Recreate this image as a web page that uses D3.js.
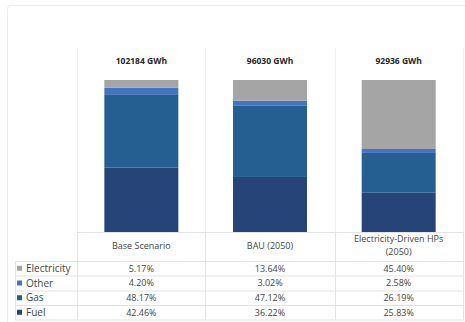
<!DOCTYPE html>
<html><head><meta charset="utf-8">
<script src="https://cdn.jsdelivr.net/npm/d3@7"></script>
<style>html,body{margin:0;padding:0;background:#fff;}svg{display:block;}</style>
</head><body>
<svg id="chart" width="465" height="322"></svg>
<script>
const scenarios = ["Base Scenario", "BAU (2050)", "Electricity-Driven HPs (2050)"];
const scenarioLines = [["Base Scenario"], ["BAU (2050)"], ["Electricity-Driven HPs", "(2050)"]];
const totals = ["102184 GWh", "96030 GWh", "92936 GWh"];
const seriesNames = ["Electricity", "Other", "Gas", "Fuel"];
const electricity = [5.17, 13.64, 45.40];
const other = [4.20, 3.02, 2.58];
const gas = [48.17, 47.12, 26.19];
const fuel = [42.46, 36.22, 25.83];
const colors = ["#a5a5a5", "#4472c4", "#255e91", "#264478"];

const seriesValues = [electricity, other, gas, fuel];
const rows = scenarios.map((s, i) => ({scenario: s, Electricity: electricity[i], Other: other[i], Gas: gas[i], Fuel: fuel[i]}));
const stackOrder = ["Fuel", "Gas", "Other", "Electricity"];
const stacked = d3.stack().keys(stackOrder)(rows);
const colorOf = d3.scaleOrdinal().domain(seriesNames).range(colors);

const svg = d3.select("#chart");
const font = "'Open Sans', 'Noto Sans', sans-serif";
const textCol = "#454545";
const lineCol = "#e3e3e3";

// outer card
svg.append("rect").attr("x", 7.5).attr("y", 5.5).attr("width", 470).attr("height", 330)
  .attr("rx", 3).attr("fill", "none").attr("stroke", "#ececec");

const colX = d3.scaleBand().domain(scenarios).range([77, 463]);
const x = d3.scaleBand().domain(scenarios).range([77, 463]).paddingInner(0.425).paddingOuter(0.2125);
const y = d3.scaleLinear().domain([0, 100]).range([232, 80]);

// vertical column lines (faint in chart area, clearer in table)
const vx = [77, 205, 335, 463];
svg.selectAll(".vline").data(vx).enter().append("line")
  .attr("x1", d => d + 0.5).attr("x2", d => d + 0.5).attr("y1", 48).attr("y2", 232)
  .attr("stroke", "#f1f1f1").attr("stroke-width", 1);
svg.selectAll(".vline2").data(vx).enter().append("line")
  .attr("x1", d => d + 0.5).attr("x2", d => d + 0.5).attr("y1", 232).attr("y2", 319.5)
  .attr("stroke", lineCol).attr("stroke-width", 1);

// bars
svg.append("g").selectAll("g").data(stacked).enter().append("g")
  .attr("fill", d => colorOf(d.key))
  .selectAll("rect").data(d => d).enter().append("rect")
  .attr("x", d => x(d.data.scenario))
  .attr("width", x.bandwidth())
  .attr("y", d => y(d[1]))
  .attr("height", d => y(d[0]) - y(d[1]));

// totals
svg.selectAll(".tot").data(scenarios).enter().append("text")
  .attr("x", d => colX(d) + colX.bandwidth() / 2).attr("y", 64)
  .attr("text-anchor", "middle").attr("font-family", font).attr("font-size", 8.5)
  .attr("font-weight", "bold").attr("fill", "#262626")
  .text((d, i) => totals[i]);

// table lines
svg.append("line").attr("x1", 77).attr("x2", 463.5).attr("y1", 232.5).attr("y2", 232.5).attr("stroke", lineCol);
const rowY = [261, 275.5, 290.5, 305, 319.5];
svg.selectAll(".hline").data(rowY).enter().append("line")
  .attr("x1", 15).attr("x2", 463.5).attr("y1", d => d + 0.5).attr("y2", d => d + 0.5)
  .attr("stroke", lineCol);
svg.append("line").attr("x1", 15.5).attr("x2", 15.5).attr("y1", 261).attr("y2", 320).attr("stroke", lineCol);

// category labels
scenarios.forEach((s, i) => {
  const lines = scenarioLines[i];
  const cx = colX(s) + colX.bandwidth() / 2;
  const t = svg.append("text").attr("text-anchor", "middle").attr("font-family", font)
    .attr("font-size", 9).attr("fill", textCol);
  if (lines.length === 1) {
    t.append("tspan").attr("x", cx).attr("y", 249).text(lines[0]);
  } else {
    t.append("tspan").attr("x", cx).attr("y", 242).text(lines[0]);
    t.append("tspan").attr("x", cx).attr("y", 255).text(lines[1]);
  }
});

// data rows
seriesNames.forEach((name, r) => {
  const yMid = (rowY[r] + rowY[r + 1]) / 2;
  svg.append("rect").attr("x", 17).attr("y", yMid - 2.5).attr("width", 5).attr("height", 5)
    .attr("fill", colors[r]);
  svg.append("text").attr("x", 26).attr("y", yMid + 3.5).attr("font-family", font)
    .attr("font-size", 10).attr("fill", textCol).text(name);
  scenarios.forEach((s, i) => {
    svg.append("text").attr("x", colX(s) + colX.bandwidth() / 2).attr("y", yMid + 3.3)
      .attr("text-anchor", "middle").attr("font-family", font).attr("font-size", 9)
      .attr("fill", textCol).text(seriesValues[r][i].toFixed(2) + "%");
  });
});
</script>
</body></html>
